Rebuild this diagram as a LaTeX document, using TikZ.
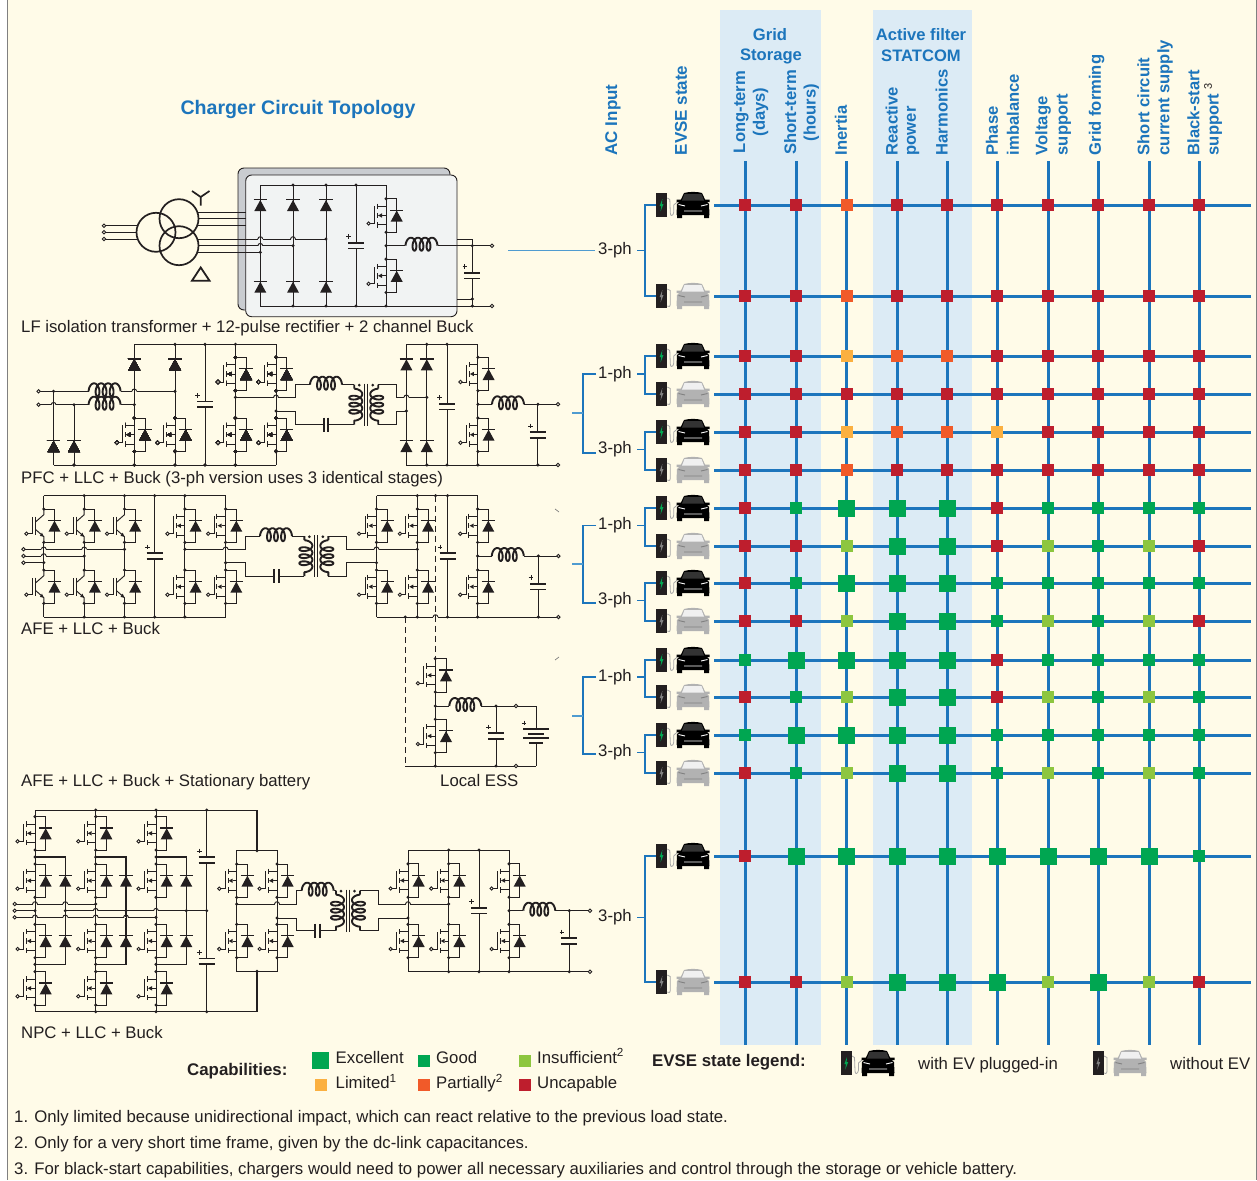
\documentclass[tikz,border=0pt]{standalone}
\usepackage{fontspec}
\setmainfont{Liberation Sans}
\usetikzlibrary{arrows.meta}
\definecolor{cream}{HTML}{FFFBE8}
\definecolor{band}{HTML}{DCEBF5}
\definecolor{panelc}{HTML}{F1F3F3}
\definecolor{panelb}{HTML}{C9CCD0}
\definecolor{ink}{HTML}{231F20}
\definecolor{blu}{HTML}{1C75BC}
\definecolor{lblu}{HTML}{4F9BD0}
\definecolor{cR}{HTML}{BE1E2D}
\definecolor{cO}{HTML}{F15A29}
\definecolor{cY}{HTML}{FBB040}
\definecolor{cL}{HTML}{8DC63F}
\definecolor{cG}{HTML}{00A651}
\def\bgc{cream}
\newcommand\fs[1]{\fontsize{#1}{#1}\selectfont}
\def\colx#1{\ifcase#1\or745.3\or796.3\or846.7\or897.3\or947.3\or997.3\or1048.3\or1098.3\or1149.3\or1199.3\fi}
\tikzset{
  cir/.style={line width=.95pt,draw=ink,line join=miter},
  thk/.style={line width=1.5pt,draw=ink},
  grid/.style={line width=3pt,draw=blu},
  conn/.style={line width=1.2pt,draw=blu},
  conl/.style={line width=1.2pt,draw=lblu},
  dsh/.style={line width=.95pt,draw=ink,dash pattern=on 6pt off 4pt},
  txt/.style={font=\fs{16.75},inner sep=0pt,text=ink,anchor=base west},
  bold/.style={font=\fs{16.85}\bfseries,inner sep=0pt,text=ink,anchor=base west},
  hdr/.style={font=\fs{16.6}\bfseries,inner sep=0pt,text=blu,rotate=90,anchor=west},
  hdc/.style={font=\fs{16.6}\bfseries,inner sep=0pt,text=blu,rotate=90,align=center,anchor=center},
  hdt/.style={font=\fs{16.6}\bfseries,inner sep=0pt,text=blu,align=center,anchor=center},
  sqR/.style={rectangle,fill=cR,minimum size=12pt,inner sep=0pt},
  sqO/.style={rectangle,fill=cO,minimum size=12pt,inner sep=0pt},
  sqY/.style={rectangle,fill=cY,minimum size=12pt,inner sep=0pt},
  sqL/.style={rectangle,fill=cL,minimum size=12pt,inner sep=0pt},
  sqG/.style={rectangle,fill=cG,minimum size=12pt,inner sep=0pt},
  sqE/.style={rectangle,fill=cG,minimum size=17pt,inner sep=0pt},
  pics/jdot/.style={code={\fill[ink] (0,0) circle[radius=1.7];}},
  pics/term/.style={code={\draw[line width=.9pt,draw=ink,fill=\bgc] (0,0) circle[radius=1.7];}},
  pics/hopp/.style={code={
    \fill[\bgc] (-2.4,-.8) rectangle (2.4,.8);
    \draw[cir] (0,-2.2)--(0,2.2);
    \draw[cir] (-2.4,0) .. controls (-2.2,-3) and (2.2,-3) .. (2.4,0);}},
  pics/diod/.style={code={
    \fill[ink] (0,-5) -- (-6,6) -- (6,6) -- cycle;
    \draw[line width=1.2pt,draw=ink] (-6.7,-5.3)--(6.7,-5.3);}},
  pics/mosf/.style={code={
    \draw[cir] (0,-16.7)--(0,16.7);
    \draw[cir] (0,-16.7)--(10.7,-16.7)--(10.7,16.7)--(0,16.7);
    \fill[ink] (10.7,-5) -- (4.7,6) -- (16.7,6) -- cycle;
    \draw[line width=1.2pt,draw=ink] (4,-5.3)--(17.4,-5.3);
    \draw[line width=.9pt,draw=ink] (-8.7,-12)--(-8.7,-6.7) (-8.7,-2.7)--(-8.7,2.7) (-8.7,6.7)--(-8.7,12);
    \draw[line width=.9pt,draw=ink] (-8.7,-9.3)--(0,-9.3) (-8.7,9.3)--(0,9.3) (-4,0)--(0,0);
    \fill[ink] (-8,0) -- (-4,-2.2) -- (-4,2.2) -- cycle;
    \draw[line width=.9pt,draw=ink] (-15.6,8)--(-11.5,8)--(-11.5,-9.3);
    \fill[ink] (0,-16.7) circle[radius=1.7] (0,16.7) circle[radius=1.7];
    \draw[line width=.9pt,draw=ink,fill=\bgc] (-17.4,8) circle[radius=1.7];}},
  pics/igbt/.style={code={
    \draw[cir] (0,-16.7)--(0,-11)--(-8,-4);
    \draw[cir] (0,16.7)--(0,11)--(-8,4);
    \draw[cir] (0,-16.7)--(10.7,-16.7)--(10.7,16.7)--(0,16.7);
    \fill[ink] (10.7,-5) -- (4.7,6) -- (16.7,6) -- cycle;
    \draw[line width=1.2pt,draw=ink] (4,-5.3)--(17.4,-5.3);
    \draw[line width=1.1pt,draw=ink] (-8,-9)--(-8,9);
    \draw[line width=.9pt,draw=ink] (-15.6,8)--(-11,8)--(-11,-9);
    \fill[ink] (0,11) -- (-4,10.2) -- (-1.8,7) -- cycle;
    \fill[ink] (0,-16.7) circle[radius=1.7] (0,16.7) circle[radius=1.7];
    \draw[line width=.9pt,draw=ink,fill=\bgc] (-17.4,8) circle[radius=1.7];}},
  pics/polcap/.style={code={
    \fill[\bgc] (-8,-2.2) rectangle (8,2.2);
    \draw[line width=1.9pt,draw=ink] (-8,-2.8)--(8,-2.8) (-8,2.8)--(8,2.8);
    \draw[line width=.8pt,draw=ink] (-9.8,-9)--(-5.2,-9) (-7.5,-11.3)--(-7.5,-6.7);}},
  pics/hcapa/.style={code={
    \draw[line width=1.9pt,draw=ink] (-2.4,-7)--(-2.4,7) (2.4,-7)--(2.4,7);}},
  pics/indu/.style={code={
    \draw[line width=1.9pt,draw=ink,line join=round] plot[domain=77:1363,samples=110,variable=\t,smooth]
      ({1.12*(\t-77)*pi/180-3.5*(sin(\t)-0.974)},{-1.5+6.5*cos(\t)});}},
  pics/xfmr/.style={code={
    \draw[line width=1pt,draw=ink] (-1.6,-21)--(-1.6,21) (1.6,-21)--(1.6,21);
    \fill[ink] (-7,-19.5) circle[radius=1.5] (6.5,-19.5) circle[radius=1.5];
    \draw[line width=1.9pt,draw=ink,line join=round] (-12,-20)--(-12,-16) plot[domain=77:1363,samples=110,variable=\t,smooth]
      ({-12-(-1.5+6.5*cos(\t))},{-16+1.12*(\t-77)*pi/180-3.5*(sin(\t)-0.974)}) -- (-12,20);
    \draw[line width=1.9pt,draw=ink,line join=round] (12,-20)--(12,-16) plot[domain=77:1363,samples=110,variable=\t,smooth]
      ({12+(-1.5+6.5*cos(\t))},{-16+1.12*(\t-77)*pi/180-3.5*(sin(\t)-0.974)}) -- (12,20);}},
}
\newcommand\M[2]{\pic at (#1,#2) {mosf};}
\newcommand\I[2]{\pic at (#1,#2) {igbt};}
\newcommand\D[2]{\pic at (#1,#2) {diod};}
\newcommand\J[2]{\pic at (#1,#2) {jdot};}
\newcommand\T[2]{\pic at (#1,#2) {term};}
\newcommand\Hp[2]{\pic at (#1,#2) {hopp};}
\newcommand\Cp[2]{\pic at (#1,#2) {polcap};}
\newcommand\Hc[2]{\pic at (#1,#2) {hcapa};}
\newcommand\Ld[2]{\pic at (#1,#2) {indu};}
\newcommand\Xf[2]{\pic at (#1,#2) {xfmr};}
% x of charger, x of car centre, y, bolt colour, car colour, windshield colour, detail colour
\newcommand\EVSE[7]{%
  \begin{scope}[shift={(#1,#3)}]
    \fill[ink] (0,-12.5) rectangle (11,12);
    \fill[#4] (6,-6) -- (3.4,1) -- (5,1) -- (4.2,6.5) -- (7.2,-1) -- (5.6,-1) -- cycle;
  \end{scope}
  \begin{scope}[shift={(#2,#3)}]
    \fill[#5] (-9,-12) .. controls (-4,-13.5) and (4,-13.5) .. (9,-12) -- (12.5,-4.5) -- (16,-1) -- (16.5,10) -- (-16.5,10) -- (-16,-1) -- (-12.5,-4.5) -- cycle;
    \fill[#5] (-16,10) rectangle (-11,13) (11,10) rectangle (16,13) (-16.5,-5.5) rectangle (-12,-3) (12,-3) rectangle (16.5,-5.5);
    \fill[#6] (-8.5,-11) -- (8.5,-11) -- (11,-4.5) -- (-11,-4.5) -- cycle;
    \draw[line width=.9pt,draw=#7] (-14.5,-.5)--(-8,1) (14.5,-.5)--(8,1) (-9,6)--(9,6);
  \end{scope}}
\newcommand\HoseA[2]{\draw[line width=.8pt,draw=gray!70,shift={(#1,#2)}] (11,-7) -- (13.5,-5.5) -- (14,8) .. controls (14,12) and (17,11) .. (17.5,7) -- (17.5,0) -- (21,-3);}
\newcommand\HoseB[2]{\draw[line width=.8pt,draw=gray!70,shift={(#1,#2)}] (11,-7) -- (14,-5.5) -- (14,8) .. controls (14,11) and (12,11) .. (11,10);}
\begin{document}
\begin{tikzpicture}[x=1pt,y=-1pt]
\useasboundingbox (0,0) rectangle (1257,1180);
\fill[white] (0,0) rectangle (1257,1180);
\fill[cream] (7,0) rectangle (1256,1180);
\draw[line width=.8pt,draw=gray] (7,0)--(7,1180) (1256,0)--(1256,1180);
\fill[band] (720,10) rectangle (821,1045);
\fill[band] (873,10) rectangle (972,1045);

%% ---- title and headers
\node[font=\fs{19.6}\bfseries,text=blu,inner sep=0pt] (title) at (298,109) {Charger Circuit Topology};
\node[hdr,font=\fs{17}\bfseries] (hac) at (613,155.5) {AC Input};
\node[hdr,font=\fs{17}\bfseries] (hev) at (681,155.5) {EVSE state};
\node[hdt] (hgs1) at (770,35) {Grid};
\node[hdt] (hgs2) at (771,56) {Storage};
\node[hdt] (haf1) at (921,35) {Active filter};
\node[hdt] (haf2) at (921,56) {STATCOM};
\node[hdc] (h1) at (751,112) {Long-term\\[3pt](days)};
\node[hdc] (h2) at (801.5,112.5) {Short-term\\[3pt](hours)};
\node[hdr] (h3) at (841,155.5) {Inertia};
\node[hdr] (h4a) at (891.7,155.5) {Reactive};
\node[hdr] (h4b) at (913,155.5) {power};
\node[hdr] (h5) at (941.7,155.5) {Harmonics};
\node[hdr] (h6a) at (992,155.5) {Phase};
\node[hdr] (h6b) at (1013,155.5) {imbalance};
\node[hdr] (h7a) at (1043,155.5) {Voltage};
\node[hdr] (h7b) at (1064,155.5) {support};
\node[hdr] (h8) at (1096.7,155.5) {Grid forming};
\node[hdr] (h9a) at (1143.5,155.5) {Short circuit};
\node[hdr] (h9b) at (1165,155.5) {current supply};
\node[hdr] (h10a) at (1193.5,155.5) {Black-start};
\node[hdr] (h10b) at (1215,155.5) {support};
\node[font=\fs{11},text=ink,inner sep=0pt,rotate=90] (h10c) at (1208,86) {3};

%% ---- matrix
\foreach \i in {1,...,10} \draw[grid] ({\colx{\i}},161) -- ({\colx{\i}},1045);
\foreach \ry in {205,296,356,394,432,470,508,546,583,621,660,697,735,773,856,982}
  \draw[grid] (714,\ry) -- (1251,\ry);
\foreach \ry/\codes in {
  205/{R,R,O,R,R,R,R,R,R,R},
  296/{R,R,O,R,R,R,R,R,R,R},
  356/{R,R,Y,O,O,R,R,R,R,R},
  394/{R,R,R,R,R,R,R,R,R,R},
  432/{R,R,Y,O,O,Y,R,R,R,R},
  470/{R,R,O,R,R,R,R,R,R,R},
  508/{R,G,E,E,E,R,G,G,G,G},
  546/{R,R,L,E,E,R,L,G,L,R},
  583/{R,G,E,E,E,G,G,G,G,G},
  621/{R,R,L,E,E,G,L,G,L,R},
  660/{G,E,E,E,E,R,G,G,G,G},
  697/{R,G,L,E,E,R,L,G,L,G},
  735/{G,E,E,E,E,G,G,G,G,G},
  773/{R,G,L,E,E,G,L,G,L,G},
  856/{R,E,E,E,E,E,E,E,E,G},
  982/{R,R,L,E,E,E,L,E,L,R}}{
  \foreach \c [count=\i] in \codes
    \node[sq\c] (m-\ry-\i) at ({\colx{\i}},\ry) {};
}

%% ---- EVSE icons
\foreach \ry in {205,356,432,508,583,660,735,856}{
  \HoseA{656.3}{\ry}
  \EVSE{656.3}{693}{\ry}{cG}{black}{black!80}{white}}
\foreach \ry in {296,394,470,546,621,697,773,982}{
  \HoseB{656.3}{\ry}
  \EVSE{656.3}{693}{\ry}{gray}{black!30}{black!6}{black!50}}

%% ---- AC input brackets
\tikzset{lab/.style={font=\fs{16.75},inner sep=0pt,text=ink}}
\node[lab] (a1) at (615,250.5) {3-ph};
\coordinate (a1l) at (595,250.5);
\draw[conl] (508,250.5) -- (a1l);
\draw[conn] (637,250.5) -- (645,250.5);
\draw[conn] (656,205) -- (645,205) -- (645,296) -- (656,296);
\foreach \nm/\yl/\ya/\yb/\tx in {a2/374/356/394/1-ph,a3/449.5/432/470/3-ph,a4/525.5/508/546/1-ph,a5/600.5/583/621/3-ph,a6/677/660/697/1-ph,a7/752.5/735/773/3-ph,a8/917.5/856/982/3-ph}{
  \node[lab] (\nm) at (615,\yl) {\tx};
  \draw[conn] (637,\yl) -- (645,\yl);
  \draw[conn] (656,\ya) -- (645,\ya) -- (645,\yb) -- (656,\yb);
}
\draw[conn] (596,374) -- (583,374) -- (583,453) -- (596,453);
\draw[conl] (572,413) -- (583,413);
\draw[conn] (596,525.5) -- (583,525.5) -- (583,603) -- (596,603);
\draw[conl] (572,564) -- (583,564);
\draw[conn] (596,677) -- (583,677) -- (583,754) -- (596,754);
\draw[conl] (572,716) -- (583,716);
\draw[line width=.7pt,draw=gray] (555,509)--(559,512) (555,660)--(559,657);

%% ---- circuit 1
\draw[line width=.9pt,draw=ink,fill=panelb,rounded corners=6pt] (238,168) rectangle (450,310);
\draw[line width=.9pt,draw=ink,fill=panelc,rounded corners=6pt] (245.7,175) rectangle (457,316.7);
\draw[line width=1.7pt,draw=ink] (156,232.3) circle[radius=19.5] (179,218.7) circle[radius=19.5] (179,245.7) circle[radius=19.5];
\draw[cir] (104,225.7)--(138,225.7) (104,232.3)--(136.5,232.3) (104,239)--(138,239);
\T{104}{225.7}\T{104}{232.3}\T{104}{239}
\draw[cir] (197.5,212)--(245.7,212) (198.5,218.7)--(245.7,218.7) (197,225.3)--(245.7,225.3);
\draw[line width=1.7pt,draw=ink] (200.7,205.7)--(200.7,197)--(192,191) (200.7,197)--(209.5,191);
\draw[line width=1.8pt,draw=ink,line join=miter] (200.7,267.5)--(192,280.7)--(209.5,280.7)--cycle;
\begin{scope}
\def\bgc{panelc}
\draw[cir] (197.5,239)--(326,239) (198.5,245.7)--(293,245.7) (197,252.3)--(260.3,252.3);
\draw[cir] (260.3,185)--(386,185) (260.3,306)--(492,306);
\foreach \x in {260.3,293,326}{\draw[cir] (\x,185)--(\x,306); \D{\x}{205}\D{\x}{286.7}}
\draw[cir] (356,185)--(356,306);
\draw[cir] (386,185)--(386,306);
\Cp{356}{245.7}
\M{386}{215.5}\M{386}{275.8}
\Hp{260.3}{239}\Hp{260.3}{245.7}\Hp{293}{239}
\J{326}{239}\J{293}{245.7}\J{260.3}{252.3}
\foreach \x in {293,326,356}{\J{\x}{185}\J{\x}{306}}
\J{386}{306}\J{386}{245.7}
\draw[cir] (386,245.7)--(405,245.7);
\Ld{405.5}{245.7}
\end{scope}
\draw[cir] (437.5,245.7)--(492,245.7) (457,239)--(472.3,239)--(472.3,306) (457,299)--(472.3,299);
\Cp{472.3}{275.7}
\J{472.3}{245.7}\J{472.3}{299}\J{472.3}{306}
\T{492}{245.7}\T{492}{306}
\node[txt] (c1t) at (21,332) {LF isolation transformer + 12-pulse rectifier + 2 channel Buck};

%% ---- circuit 2
\draw[cir] (134.3,344.3)--(276,344.3) (53.6,465)--(276,465);
\draw[cir] (53.6,391.3)--(53.6,465) (74,404.7)--(74,465);
\foreach \x in {134.3,175,205,235.4,276} \draw[cir] (\x,344.3)--(\x,465);
\draw[cir] (38.6,391.3)--(88.6,391.3) (120.6,391.3)--(175,391.3) (38.6,404.7)--(88.6,404.7) (120.6,404.7)--(134.3,404.7);
\Ld{88.6}{391.3}\Ld{88.6}{404.7}
\T{38.6}{391.3}\T{38.6}{404.7}
\Hp{53.6}{404.7}\Hp{134.3}{391.3}
\J{53.6}{391.3}\J{74}{404.7}\J{134.3}{404.7}\J{175}{391.3}
\foreach \x in {175,205,235.4}\J{\x}{344.3}
\foreach \x in {74,134.3,175,205,235.4}\J{\x}{465}
\D{53.6}{446}\D{74}{446}\D{134.3}{364.3}\D{175}{364.3}
\M{134.3}{434.7}\M{175}{434.7}\M{235.4}{374}\M{276}{374}\M{235.4}{434.7}\M{276}{434.7}
\Cp{205}{404.3}
\draw[cir] (235.4,397.3)--(295.7,397.3)--(295.7,384.7)--(310,384.7) (342,384.7)--(354.25,384.7);
\Ld{310}{384.7}
\draw[cir] (276,411)--(295.7,411)--(295.7,424.7)--(323.6,424.7) (328.4,424.7)--(354.25,424.7);
\Hc{326}{424.7}
\Hp{276}{397.3}\J{235.4}{397.3}\J{276}{411}
\Xf{366.25}{404.7}
\draw[cir] (378.25,384.7)--(396.8,384.7)--(396.8,397.3)--(426.8,397.3) (378.25,424.7)--(396.8,424.7)--(396.8,411)--(406.4,411);
\draw[cir] (406.4,344.3)--(477.9,344.3) (406.4,465)--(558,465);
\foreach \x in {406.4,426.8,447,477.9} \draw[cir] (\x,344.3)--(\x,465);
\Hp{406.4}{397.3}\J{426.8}{397.3}\J{406.4}{411}
\D{406.4}{364.3}\D{426.8}{364.3}\D{406.4}{446}\D{426.8}{446}
\foreach \x in {426.8,447}{\J{\x}{344.3}}
\foreach \x in {426.8,447,477.9,537.9}{\J{\x}{465}}
\Cp{447}{406.7}
\M{477.9}{374}\M{477.9}{434.7}
\draw[cir] (477.9,404.3)--(492,404.3) (524,404.3)--(558,404.3) (537.9,404.3)--(537.9,465);
\Ld{492}{404.3}\J{477.9}{404.3}\J{537.9}{404.3}
\Cp{537.9}{435}
\T{558}{404.3}\T{558}{465}
\node[txt] (c2t) at (21,483.5) {PFC + LLC + Buck (3-ph version uses 3 identical stages)};

%% ---- circuit 3
\draw[cir] (43.8,495.7)--(225.6,495.7) (43.8,617)--(225.6,617);
\foreach \x in {43.8,84.2,124.5}{
  \draw[cir] (\x,495.7)--(\x,509) (\x,542.4)--(\x,570) (\x,603.4)--(\x,617);
  \I{\x}{525.7}\I{\x}{586.7}}
\draw[cir] (23.5,549.3)--(124.5,549.3) (23.5,556)--(84.2,556) (23.5,562.7)--(43.8,562.7);
\T{23.5}{549.3}\T{23.5}{556}\T{23.5}{562.7}
\Hp{43.8}{549.3}\Hp{43.8}{556}\Hp{84.2}{549.3}
\J{124.5}{549.3}\J{84.2}{556}\J{43.8}{562.7}
\foreach \x in {84.2,124.5,154.7,184.9}{\J{\x}{495.7}\J{\x}{617}}
\draw[cir] (154.7,495.7)--(154.7,617);
\Cp{154.7}{556}
\foreach \x in {184.9,225.6,376.5,417.3}{\draw[cir] (\x,495.7)--(\x,617); \M{\x}{525.7}\M{\x}{586.7}}
\draw[cir] (184.9,549.3)--(245.6,549.3)--(245.6,536.2)--(260,536.2) (292,536.2)--(304.35,536.2);
\Ld{260}{536.2}
\draw[cir] (225.6,562.7)--(245.6,562.7)--(245.6,576.2)--(274.1,576.2) (278.9,576.2)--(304.35,576.2);
\Hc{276.5}{576.2}
\Hp{225.6}{549.3}\J{184.9}{549.3}\J{225.6}{562.7}
\Xf{316.35}{556.2}
\draw[cir] (328.35,536.2)--(346.4,536.2)--(346.4,549.3)--(417.3,549.3) (328.35,576.2)--(346.4,576.2)--(346.4,562.7)--(376.5,562.7);
\Hp{376.5}{549.3}\J{417.3}{549.3}\J{376.5}{562.7}
\draw[cir] (376.5,495.7)--(477.6,495.7) (376.5,617)--(558.4,617);
\foreach \x in {417.3,435.5,447.5}{\J{\x}{495.7}}
\foreach \x in {405.3,417.3,447.5,477.6,538.4}{\J{\x}{617}}
\draw[cir] (447.5,495.7)--(447.5,617) (477.6,495.7)--(477.6,617);
\Cp{447.5}{556}
\M{477.6}{525.7}\M{477.6}{586.7}
\draw[cir] (477.6,556)--(491.8,556) (523.8,556)--(558.4,556) (538.4,556)--(538.4,617);
\Ld{491.8}{556}\J{477.6}{556}\J{538.4}{556}
\Cp{538.4}{586.7}
\T{558.4}{556}\T{558.4}{617}
\Hp{435.5}{617}
\draw[dsh] (435.5,495.7)--(435.5,658.7) (405.3,617)--(405.3,766);
\node[txt] (c3t) at (21,634.5) {AFE + LLC + Buck};

%% ---- circuit 4
\draw[cir] (435.3,658.7)--(435.3,766) (405.3,766)--(536,766) (435.3,706)--(449.3,706) (481.3,706)--(536,706);
\draw[cir] (496,706)--(496,766) (536,706)--(536,729) (536,743)--(536,766);
\M{435.3}{675.3}\M{435.3}{736}
\Ld{449.3}{706}
\Cp{496}{736}
\draw[line width=1.9pt,draw=ink] (523,729)--(549,729) (528,734)--(544,734) (523,738.3)--(549,738.3) (529,743)--(543,743);
\draw[line width=.8pt,draw=ink] (521.7,723)--(526.3,723) (524,720.7)--(524,725.3);
\J{435.3}{706}\J{496}{706}\J{435.3}{766}\J{496}{766}
\T{516}{706}\T{516}{766}
\node[txt] (c4t) at (21,786) {AFE + LLC + Buck + Stationary battery};
\node[txt] (c4e) at (440,786) {Local ESS};

%% ---- circuit 5
\draw[cir] (35,810)--(257,810) (35,1011.7)--(257,1011.7);
\foreach \x in {35,95.7,156}{
  \draw[cir] (\x,810)--(\x,1011.7);
  \M{\x}{833.3}\M{\x}{880.7}\M{\x}{941}\M{\x}{988.3}
  \J{\x}{857}\J{\x}{964.3}
  \draw[thk] (\x,857) -- ++(30.3,0) -- ++(0,107.3) -- ++(-30.3,0);
  \pgfmathsetmacro\xc{\x+30.3}
  \D{\xc}{880.7}\D{\xc}{941}
}
\draw[cir] (14.7,904)--(95.7,904) (14.7,910.7)--(35,910.7) (65.3,910.7)--(206.7,910.7) (14.7,917.3)--(156,917.3);
\T{14.7}{904}\T{14.7}{910.7}\T{14.7}{917.3}
\Hp{35}{904}\Hp{65.3}{904}\Hp{35}{917.3}\Hp{65.3}{917.3}\Hp{95.7}{917.3}\Hp{126}{917.3}\Hp{95.7}{910.7}\Hp{156}{910.7}
\J{95.7}{904}\J{35}{910.7}\J{156}{917.3}
\foreach \x in {65.3,126,186.3,206.7}{\J{\x}{910.7}}
\foreach \x in {95.7,156,206.7}{\J{\x}{810}\J{\x}{1011.7}}
\draw[cir] (206.7,810)--(206.7,1011.7);
\Cp{206.7}{860}\Cp{206.7}{961.3}
\draw[thk] (257,810)--(257,850.7) (257,971.3)--(257,1011.7);
\draw[cir] (236.7,850.7)--(277,850.7)--(277,971.3)--(236.7,971.3)--cycle;
\J{257}{850.7}\J{257}{971.3}
\foreach \x in {236.7,277}{\M{\x}{880.7}\M{\x}{941}}
\draw[cir] (236.7,904)--(296.7,904)--(296.7,890.7)--(301.7,890.7) (333.7,890.7)--(336,890.7);
\Ld{301.7}{890.7}
\draw[cir] (277,918)--(296.7,918)--(296.7,930.7)--(314.9,930.7) (319.7,930.7)--(336,930.7);
\Hc{317.3}{930.7}
\Hp{277}{904}\J{236.7}{904}\J{277}{918}
\Xf{348}{910.7}
\draw[cir] (360,890.7)--(378.3,890.7)--(378.3,904)--(448.7,904) (360,930.7)--(378.3,930.7)--(378.3,918)--(408,918);
\draw[cir] (408,850)--(509,850) (408,971.7)--(590,971.7);
\foreach \x in {408,448.7,479,509}{\draw[cir] (\x,850)--(\x,971.7);}
\foreach \x in {408,448.7,509}{\M{\x}{880.5}\M{\x}{941}}
\Hp{408}{904}\J{448.7}{904}\J{408}{918}
\foreach \x in {448.7,479}{\J{\x}{850}}
\foreach \x in {448.7,479,509,569.3}{\J{\x}{971.7}}
\Cp{479}{910.7}
\draw[cir] (509,910.7)--(523.3,910.7) (555.3,910.7)--(590,910.7) (569.3,910.7)--(569.3,971.7);
\Ld{523.3}{910.7}\J{509}{910.7}\J{569.3}{910.7}
\Cp{569.3}{941}
\T{590}{910.7}\T{590}{971.7}
\node[txt] (c5t) at (21,1038.5) {NPC + LLC + Buck};

%% ---- capabilities legend
\node[bold] (capl) at (187,1075.5) {Capabilities:};
\node[sqE] (l1) at (320.5,1060.5) {};
\node[sqG] (l2) at (424,1060.5) {};
\node[sqL] (l3) at (525,1060.5) {};
\node[sqY] (l4) at (321,1085) {};
\node[sqO] (l5) at (424,1085) {};
\node[sqR] (l6) at (525,1085) {};
\node[txt] (lt1) at (335.5,1063) {Excellent};
\node[txt] (lt2) at (436,1063) {Good};
\node[txt] (lt3) at (537,1063) {Insufficient\textsuperscript{2}};
\node[txt] (lt4) at (335.5,1088.5) {Limited\textsuperscript{1}};
\node[txt] (lt5) at (436,1088.5) {Partially\textsuperscript{2}};
\node[txt] (lt6) at (537,1088.5) {Uncapable};

%% ---- EVSE legend
\node[bold] (evl) at (652,1066.5) {EVSE state legend:};
\HoseA{841}{1063}
\EVSE{841}{878}{1063}{cG}{black}{black!80}{white}
\node[txt] (evt1) at (918,1069.5) {with EV plugged-in};
\HoseB{1093}{1063}
\EVSE{1093}{1130}{1063}{gray}{black!30}{black!6}{black!50}
\node[txt] (evt2) at (1170,1069.5) {without EV};

%% ---- footnotes
\node[txt] (f1) at (14,1122.5) {1. Only limited because unidirectional impact, which can react relative to the previous load state.};
\node[txt] (f2) at (14,1148.5) {2. Only for a very short time frame, given by the dc-link capacitances.};
\node[txt] (f3) at (14,1174.5) {3. For black-start capabilities, chargers would need to power all necessary auxiliaries and control through the storage or vehicle battery.};
\end{tikzpicture}
\end{document}
